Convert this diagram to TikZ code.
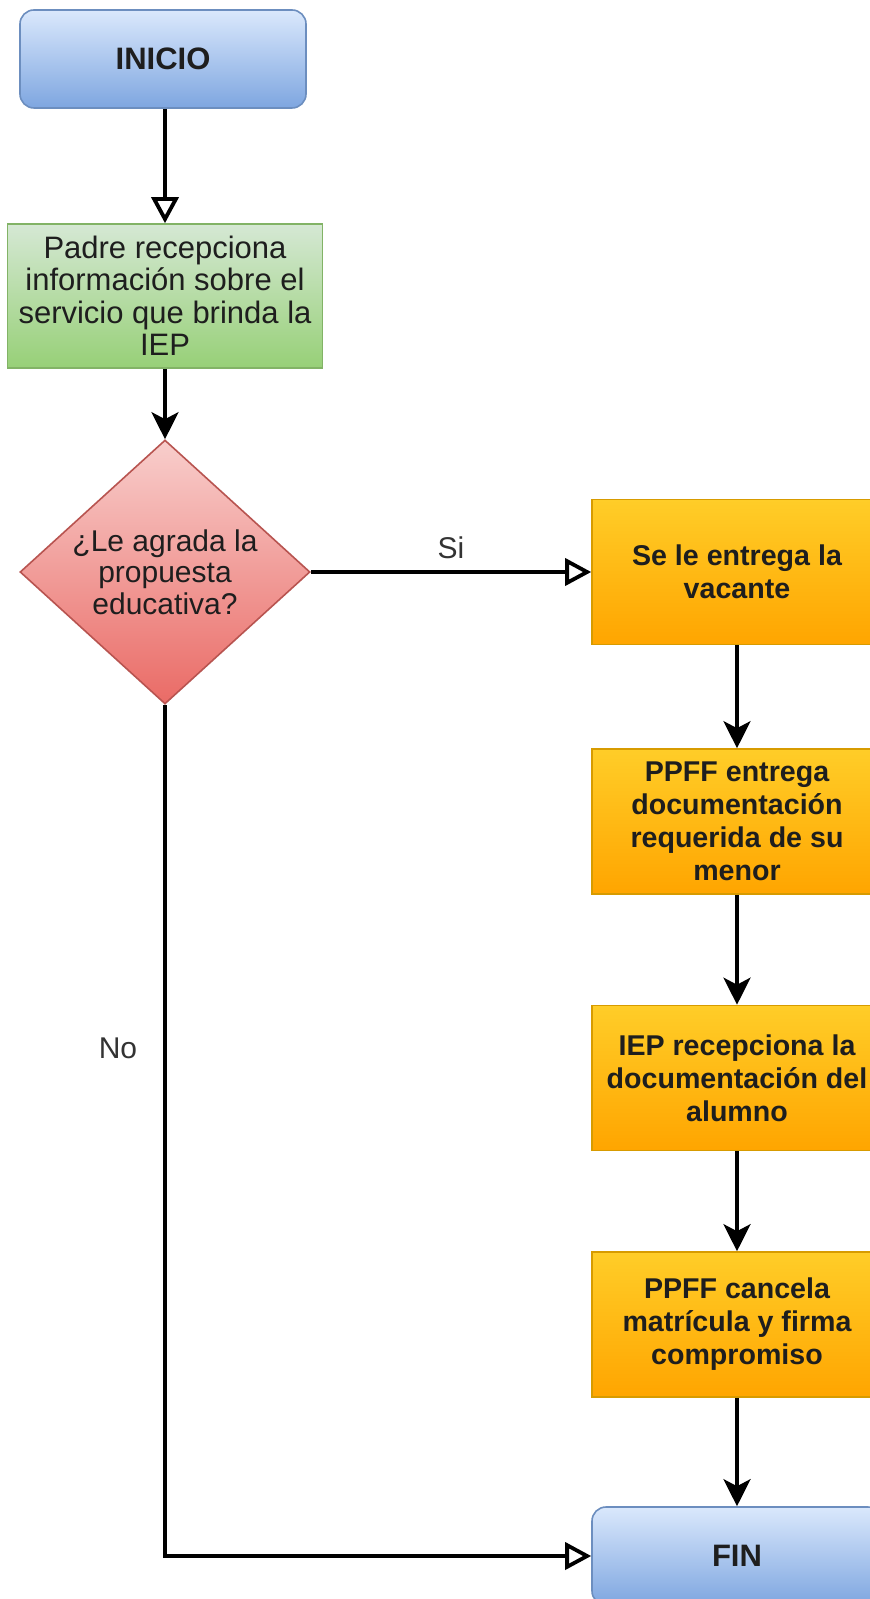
\documentclass[tikz,border=0pt]{standalone}
\usepackage{fontspec}
\setmainfont{Liberation Sans}
\usetikzlibrary{arrows.meta,shapes.geometric}

\definecolor{blueTop}{HTML}{DAE8FC}
\definecolor{blueBot}{HTML}{7EA6E0}
\definecolor{blueLine}{HTML}{6C8EBF}
\definecolor{greenTop}{HTML}{D5E8D4}
\definecolor{greenBot}{HTML}{97D077}
\definecolor{greenLine}{HTML}{82B366}
\definecolor{redTop}{HTML}{F8CECC}
\definecolor{redBot}{HTML}{EA6B66}
\definecolor{redLine}{HTML}{B85450}
\definecolor{orangeTop}{HTML}{FFCD28}
\definecolor{orangeBot}{HTML}{FFA500}
\definecolor{orangeLine}{HTML}{D79B00}
\definecolor{inkText}{HTML}{1E1E1E}
\definecolor{labelText}{HTML}{333333}

\tikzset{
  terminal/.style={draw=blueLine, line width=0.8pt, rounded corners=7pt,
    top color=blueTop, bottom color=blueBot, minimum width=143pt,
    minimum height=49pt, inner sep=0pt, text=inkText,
    font=\fontsize{15.5}{17}\selectfont\bfseries},
  infobox/.style={draw=greenLine, line width=0.8pt,
    top color=greenTop, bottom color=greenBot, minimum width=157.5pt,
    minimum height=72pt, inner sep=0pt, align=center, text=inkText,
    font=\fontsize{15.5}{16.25}\selectfont},
  decision/.style={diamond, draw=redLine, line width=0.8pt,
    top color=redTop, bottom color=redBot, minimum width=145pt,
    minimum height=132pt, inner sep=0pt},
  dectext/.style={align=center, text=inkText, inner sep=0pt,
    font=\fontsize{15}{15.8}\selectfont},
  task/.style={draw=orangeLine, line width=0.8pt,
    top color=orangeTop, bottom color=orangeBot, minimum width=145pt,
    minimum height=72.5pt, inner sep=0pt, align=center, text=inkText,
    font=\fontsize{14.3}{16.5}\selectfont\bfseries},
  flow/.style={line width=1.9pt, draw=black},
  openhead/.style={flow, -{Triangle[length=13pt,width=13.5pt,fill=white]}},
  solidhead/.style={flow, -{Stealth[length=13.5pt,width=13.5pt,inset=3.5pt]}},
  edgelabel/.style={text=labelText, font=\fontsize{15}{17}\selectfont, inner sep=0pt}
}

\begin{document}
\begin{tikzpicture}[x=0.5pt,y=-0.5pt]
\useasboundingbox (0,0) rectangle (870,1599);
\fill[white] (0,0) rectangle (870,1599);
\clip (0,0) rectangle (870,1599);

% left column
\node[terminal] (inicio) at (163,59) {INICIO};
\node[infobox] (padre) at (165,296) {Padre recepciona\\información sobre el\\servicio que brinda la\\IEP};
\node[decision] (dec) at (165,572) {};
\node[dectext] (dectxt) at (dec.center) {¿Le agrada la\\propuesta\\educativa?};

% right column
\node[task] (vacante) at (737,572) {Se le entrega la\\vacante};
\node[task] (docs) at (737,821.5) {PPFF entrega\\documentación\\requerida de su\\menor};
\node[task] (recep) at (737,1078) {IEP recepciona la\\documentación del\\alumno};
\node[task] (cancela) at (737,1324.5) {PPFF cancela\\matrícula y firma\\compromiso};
\node[terminal, minimum width=145pt] (fin) at (737,1556) {FIN};

% connectors
\draw[openhead] (padre.north |- inicio.south) -- (padre.north);
\draw[solidhead] (padre.south) -- (dec.north);
\draw[openhead] (dec.east) -- node[edgelabel, midway, yshift=12pt] (si) {Si} (vacante.west);
\draw[openhead] (dec.south) |- node[edgelabel, pos=0.202, xshift=-23.5pt] (no) {No} (fin.west);
\draw[solidhead] (vacante.south) -- (docs.north);
\draw[solidhead] (docs.south) -- (recep.north);
\draw[solidhead] (recep.south) -- (cancela.north);
\draw[solidhead] (cancela.south) -- (fin.north);
\end{tikzpicture}
\end{document}
